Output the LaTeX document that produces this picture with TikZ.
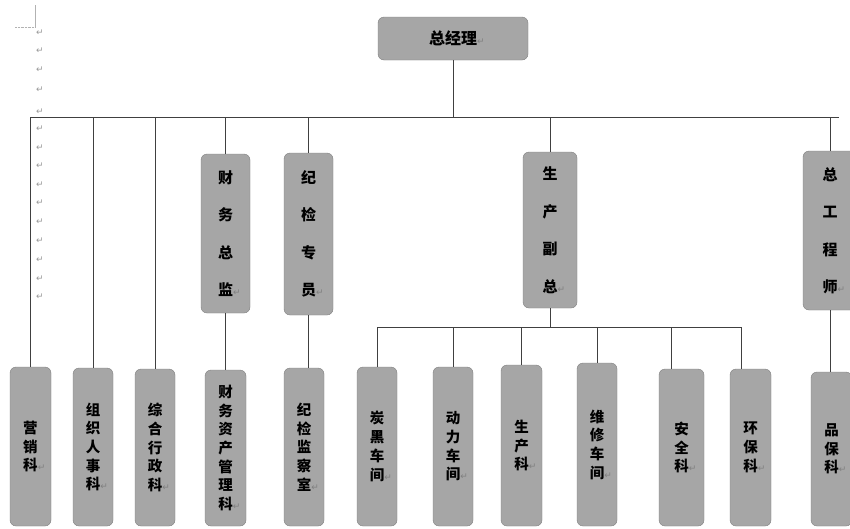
\documentclass[tikz,border=0pt]{standalone}
\usepackage{fontspec}
\newfontfamily\cjk{Noto Sans CJK SC}
\newfontfamily\dejavu{DejaVu Sans}
\newcommand\parmark{\rlap{\textcolor{black!50}{\mdseries\dejavu\fontsize{9}{9}\selectfont ↵}}}
\begin{document}
\begin{tikzpicture}[x=1pt,y=-1pt,
  orgbox/.style={draw=black!50, fill=black!35, rounded corners=6pt, inner sep=0pt, align=center,
    font=\cjk\bfseries\fontsize{15}{37.5}\selectfont},
  lowbox/.style={orgbox, font=\cjk\bfseries\fontsize{14.5}{18.7}\selectfont},
  link/.style={draw=black!75, line width=0.8pt},
  pmk/.style={text=black!40, font=\dejavu\fontsize{9}{9}\selectfont, inner sep=0pt}]
\useasboundingbox (0,0) rectangle (850,528);
\clip (0,0) rectangle (850,528);
\fill[white] (0,0) rectangle (850,528);

% editor marks
\draw[black!30, densely dotted] (15,27) -- (35,27);
\draw[black!30] (35,27) -- (35,5);
\foreach \yy [count=\i] in {33,51,70,90,112,129,148,166,185,203,222,241,260,279,297}
  \node[pmk] (pm\i) at (40,\yy) {↵};

% top
\node[orgbox, minimum width=150pt, minimum height=43pt, font=\cjk\bfseries\fontsize{16}{18}\selectfont] (gm) at (453,38.5) {总经理\parmark};

% second level
\node[orgbox, minimum width=49pt, minimum height=159pt] (cwzj) at (225.5,233.5) {财\\务\\总\\监\parmark};
\node[orgbox, minimum width=49pt, minimum height=162pt] (jjzy) at (308.5,234) {纪\\检\\专\\员\parmark};
\node[orgbox, minimum width=54pt, minimum height=156pt] (scfz) at (550,230) {生\\产\\副\\总\parmark};
\node[orgbox, minimum width=54pt, minimum height=159pt] (zgcs) at (830,230.5) {总\\工\\程\\师\parmark};

% bottom level
\node[lowbox, minimum width=41pt, minimum height=159pt] (yxk) at (30.5,446.5) {营\\销\\科\parmark};
\node[lowbox, minimum width=40pt, minimum height=158pt] (zzrsk) at (93,447) {组\\织\\人\\事\\科\parmark};
\node[lowbox, minimum width=40pt, minimum height=157pt] (zhxzk) at (155,447.5) {综\\合\\行\\政\\科\parmark};
\node[lowbox, minimum width=41pt, minimum height=156pt] (cwzcglk) at (225.5,448) {财\\务\\资\\产\\管\\理\\科\parmark};
\node[lowbox, minimum width=40pt, minimum height=158pt] (jjjck) at (304,447) {纪\\检\\监\\察\\室\parmark};
\node[lowbox, minimum width=40pt, minimum height=159pt] (thcj) at (377,446.5) {炭\\黑\\车\\间\parmark};
\node[lowbox, minimum width=40pt, minimum height=159pt] (dlcj) at (453,446.5) {动\\力\\车\\间\parmark};
\node[lowbox, minimum width=41pt, minimum height=161pt] (sck) at (521.5,445.5) {生\\产\\科\parmark};
\node[lowbox, minimum width=40pt, minimum height=163pt] (wxcj) at (597,444.5) {维\\修\\车\\间\parmark};
\node[lowbox, minimum width=45pt, minimum height=157pt] (aqk) at (681.5,447.5) {安\\全\\科\parmark};
\node[lowbox, minimum width=41pt, minimum height=157pt] (hbk) at (750.5,447.5) {环\\保\\科\parmark};
\node[lowbox, minimum width=41pt, minimum height=154pt] (pbk) at (831.5,449) {品\\保\\科\parmark};

% main bus
\coordinate (busL) at (31,117);
\coordinate (busR) at (839,117);
\draw[link] (busL) -- (busR);
\draw[link] (gm.south) -- (gm.south |- busL);
\foreach \n in {yxk,zzrsk,zhxzk}
  \draw[link] (\n.north) -- (\n.north |- busL);
\foreach \n in {cwzj,jjzy,scfz,zgcs}
  \draw[link] (\n.north) -- (\n.north |- busL);
\draw[link] (cwzj.south) -- (cwzcglk.north);
\draw[link] (jjzy.south) -- (jjzy.south |- jjjck.north);
\draw[link] (zgcs.south) -- (zgcs.south |- pbk.north);

% production sub-bus
\coordinate (subL) at (377,327);
\coordinate (subR) at (741,327);
\draw[link] (subL) -- (subR);
\draw[link] (scfz.south) -- (scfz.south |- subL);
\foreach \n in {thcj,dlcj,sck,wxcj}
  \draw[link] (\n.north) -- (\n.north |- subL);
\draw[link] ([xshift=-10.5pt]aqk.north) -- ([xshift=-10.5pt]aqk.north |- subL);
\draw[link] (subR) -- (subR |- hbk.north);
\end{tikzpicture}
\end{document}
